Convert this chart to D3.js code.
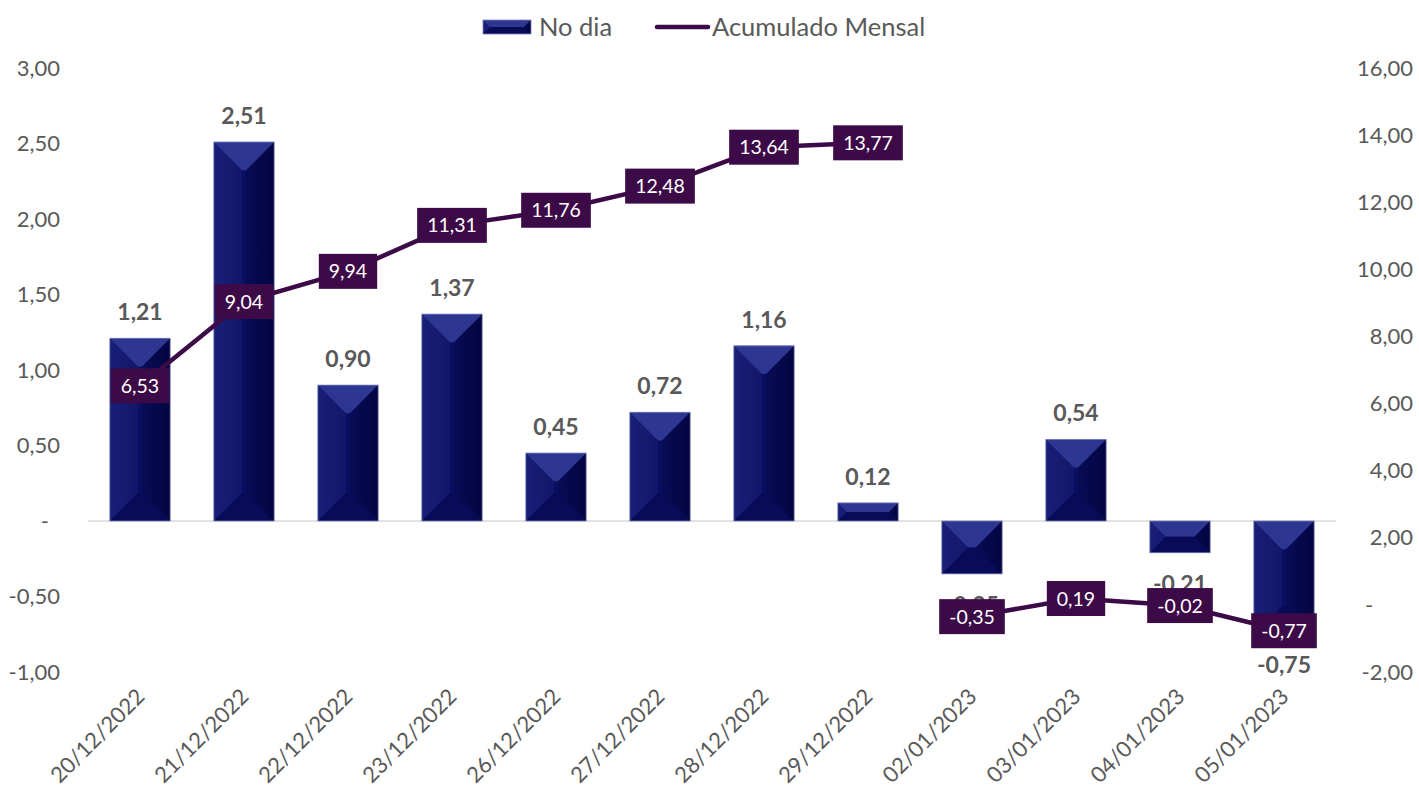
<!DOCTYPE html>
<html>
<head>
<meta charset="utf-8">
<script src="https://cdn.jsdelivr.net/npm/d3@7"></script>
<style>
  body { margin: 0; background: #fff; }
  svg text { font-family: Lato, "Open Sans", sans-serif; }
  .tick-label { fill: #595959; font-size: 22px; }
  .bar-label { fill: #595959; font-size: 23px; font-weight: bold; }
  .line-label { fill: #fff; font-size: 19.5px; }
  .legend-text { fill: #595959; font-size: 25.5px; }
</style>
</head>
<body>
<svg class="chart" width="1419" height="787"></svg>
<script>
const dates = ["20/12/2022", "21/12/2022", "22/12/2022", "23/12/2022", "26/12/2022", "27/12/2022",
               "28/12/2022", "29/12/2022", "02/01/2023", "03/01/2023", "04/01/2023", "05/01/2023"]
const noDia = [1.21, 2.51, 0.90, 1.37, 0.45, 0.72, 1.16, 0.12, -0.35, 0.54, -0.21, -0.75]
const acumulado = [6.53, 9.04, 9.94, 11.31, 11.76, 12.48, 13.64, 13.77, -0.35, 0.19, -0.02, -0.77]
const leftTicks = [-1, -0.5, 0, 0.5, 1, 1.5, 2, 2.5, 3]
const rightTicks = [-2, 0, 2, 4, 6, 8, 10, 12, 14, 16]

const fmt = v => v.toFixed(2).replace(".", ",")
const lineColor = "#3d0a48"

var margin = {top: 68, right: 83, bottom: 115, left: 88}
  , width = 1419 - margin.left - margin.right
  , height = 787 - margin.top - margin.bottom

var xScale = d3.scaleBand()
    .domain(dates)
    .range([0, width])
    .paddingInner(0.42)
    .paddingOuter(0.21)

var yLeft = d3.scaleLinear()
    .domain([-1, 3])
    .range([height, 0])

var yRight = d3.scaleLinear()
    .domain([-2, 16])
    .range([height, 0])

var svg = d3.select(".chart")

var defs = svg.append("defs")
var grad = defs.append("linearGradient").attr("id", "barGrad")
grad.append("stop").attr("offset", "0%").attr("stop-color", "#121873")
grad.append("stop").attr("offset", "50%").attr("stop-color", "#0a0f64")
grad.append("stop").attr("offset", "100%").attr("stop-color", "#04064c")

var graph = svg.append("g")
    .attr("transform", "translate(" + margin.left + "," + margin.top + ")")

// left axis labels
leftTicks.forEach(t => {
    graph.append("text")
        .attr("class", "tick-label")
        .attr("x", t === 0 ? -39 : -28)
        .attr("y", yLeft(t))
        .attr("dy", "0.35em")
        .attr("text-anchor", "end")
        .text(t === 0 ? "-" : fmt(t))
})

// right axis labels
rightTicks.forEach(t => {
    graph.append("text")
        .attr("class", "tick-label")
        .attr("x", t === 0 ? width + 29 : width + 77)
        .attr("y", yRight(t))
        .attr("dy", "0.35em")
        .attr("text-anchor", t === 0 ? "start" : "end")
        .text(t === 0 ? "-" : fmt(t))
})

// zero line
graph.append("line")
    .attr("x1", 0).attr("x2", width)
    .attr("y1", yLeft(0)).attr("y2", yLeft(0))
    .attr("stroke", "#d9d9d9").attr("stroke-width", 1.5)

// beveled bar
function drawBar(g, x0, w, yTop, yBot) {
    const x1 = x0 + w
    const h = yBot - yTop
    const d = Math.min(w / 2 - 2, h / 2)
    const b = g.append("g")
    b.append("rect").attr("x", x0).attr("y", yTop).attr("width", w).attr("height", h)
        .attr("fill", "url(#barGrad)")
    const poly = (pts, fill, op) => b.append("polygon")
        .attr("points", pts.map(p => p.join(",")).join(" "))
        .attr("fill", fill).attr("opacity", op)
    const inL = d, inR = w - d
    // top facet
    poly([[x0, yTop], [x1, yTop], [x0 + inR, yTop + d], [x0 + inL, yTop + d]], "#2d3792", 1)
    // bottom facet
    poly([[x0, yBot], [x1, yBot], [x0 + inR, yBot - d], [x0 + inL, yBot - d]], "#080c58", 1)
    // left facet
    poly([[x0, yTop], [x0 + inL, yTop + d], [x0 + inL, yBot - d], [x0, yBot]], "#ffffff", 0.03)
    // right facet
    poly([[x1, yTop], [x0 + inR, yTop + d], [x0 + inR, yBot - d], [x1, yBot]], "#000000", 0.12)
    b.append("rect").attr("x", x0).attr("y", yTop).attr("width", w).attr("height", h)
        .attr("fill", "none").attr("stroke", "#7a80b8").attr("stroke-width", 0.8)
}

dates.forEach((dt, i) => {
    const v = noDia[i]
    const yTop = yLeft(Math.max(0, v)), yBot = yLeft(Math.min(0, v))
    drawBar(graph, xScale(dt), xScale.bandwidth(), yTop, yBot)
})

// bar labels
dates.forEach((dt, i) => {
    const v = noDia[i]
    const cx = xScale(dt) + xScale.bandwidth() / 2
    graph.append("text")
        .attr("class", "bar-label")
        .attr("x", cx)
        .attr("y", v >= 0 ? yLeft(v) - 18 : yLeft(v) + 39)
        .attr("text-anchor", "middle")
        .text(fmt(v))
})

// line, broken by month
const pts = dates.map((dt, i) => ({
    x: xScale(dt) + xScale.bandwidth() / 2,
    y: yRight(acumulado[i]),
    v: acumulado[i],
    month: dt.slice(3)
}))
const line = d3.line().x(d => d.x).y(d => d.y)
d3.groups(pts, d => d.month).forEach(([m, seg]) => {
    graph.append("path")
        .datum(seg)
        .attr("d", line)
        .attr("fill", "none")
        .attr("stroke", lineColor)
        .attr("stroke-width", 4.5)
        .attr("stroke-linejoin", "round")
})

// line labels
pts.forEach(p => {
    const g = graph.append("g")
    const t = g.append("text")
        .attr("class", "line-label")
        .attr("x", p.x)
        .attr("y", p.y)
        .attr("dy", "0.36em")
        .attr("text-anchor", "middle")
        .text(fmt(p.v))
    const bb = t.node().getBBox()
    g.insert("rect", "text")
        .attr("x", p.x - bb.width / 2 - 10)
        .attr("y", p.y - 17.5)
        .attr("width", bb.width + 20)
        .attr("height", 35)
        .attr("fill", lineColor)
})

// x labels
dates.forEach(dt => {
    const cx = xScale(dt) + xScale.bandwidth() / 2
    graph.append("text")
        .attr("class", "tick-label")
        .attr("font-size", "18px")
        .attr("text-anchor", "end")
        .attr("transform", `translate(${cx + 6}, ${height + 26}) rotate(-45)`)
        .text(dt)
})

// legend
const lg = svg.append("g")
drawBar(lg, 483, 48, 20, 34)
lg.append("text").attr("class", "legend-text").attr("x", 539).attr("y", 27)
    .attr("dy", "0.35em").text("No dia")
lg.append("line").attr("x1", 657).attr("x2", 708).attr("y1", 27).attr("y2", 27)
    .attr("stroke", lineColor).attr("stroke-width", 4.5).attr("stroke-linecap", "round")
lg.append("text").attr("class", "legend-text").attr("x", 712).attr("y", 27)
    .attr("dy", "0.35em").text("Acumulado Mensal")
</script>
</body>
</html>
